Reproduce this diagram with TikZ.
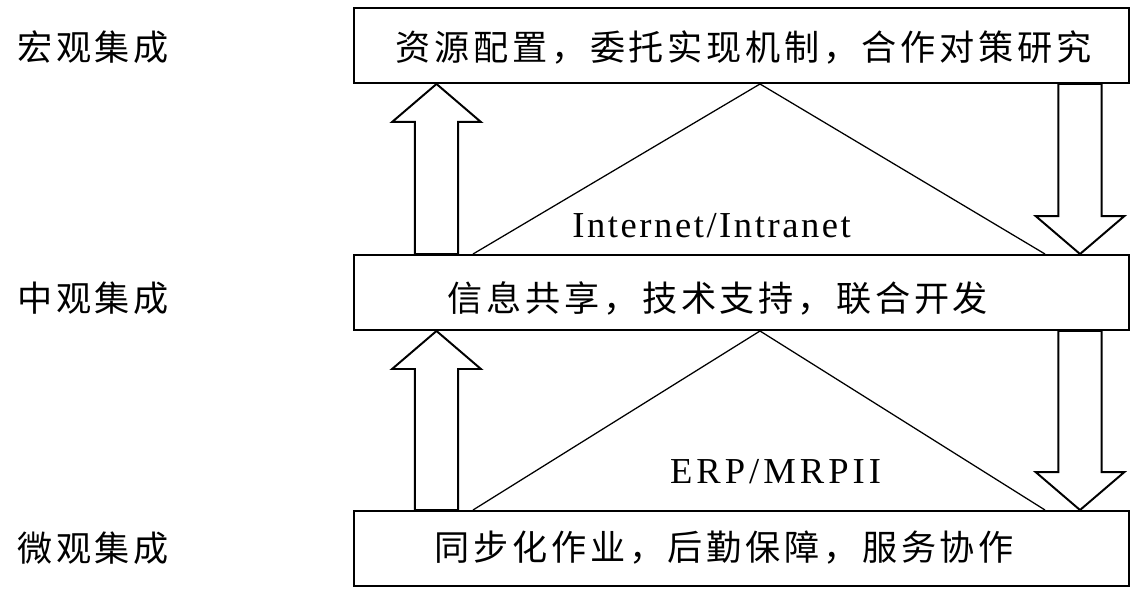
\documentclass[tikz,border=0pt]{standalone}
\usepackage{fontspec}
\setmainfont{Liberation Serif}
\newfontfamily\cjk[LetterSpace=10.5]{Noto Sans CJK SC}
\usetikzlibrary{calc}

\begin{document}
\begin{tikzpicture}[
  layer/.style={draw,line width=1.4pt,minimum width=19.39cm,minimum height=1.875cm,inner sep=0pt},
  zh/.style={font=\cjk\fontsize{25}{30}\selectfont,inner sep=0pt},
  en/.style={anchor=base,inner sep=0pt},
  ridge/.style={line width=.9pt},
  fat up/.style={line width=1.4pt,to path={
    ($(\tikztostart)+(-.54,0)$) -- ($(\tikztotarget)+(-.54,-.95)$) -- ($(\tikztotarget)+(-1.11,-.95)$) -- (\tikztotarget)
    -- ($(\tikztotarget)+(1.11,-.95)$) -- ($(\tikztotarget)+(.54,-.95)$) -- ($(\tikztostart)+(.54,0)$) -- cycle}},
  fat down/.style={line width=1.4pt,to path={
    ($(\tikztostart)+(-.54,0)$) -- ($(\tikztotarget)+(-.54,.95)$) -- ($(\tikztotarget)+(-1.11,.95)$) -- (\tikztotarget)
    -- ($(\tikztotarget)+(1.11,.95)$) -- ($(\tikztotarget)+(.54,.95)$) -- ($(\tikztostart)+(.54,0)$) -- cycle}}
]
\useasboundingbox (0,0) rectangle (28.675,15);

\node[layer] (top) at (18.54,13.8625) {};
\node[layer] (mid) at (18.54,7.6875) {};
\node[layer] (bot) at (18.54,1.2875) {};

\node[zh] (toptxt) at (18.59,13.825) {资源配置，委托实现机制，合作对策研究};
\node[zh] (midtxt) at (17.95,7.55) {信息共享，技术支持，联合开发};
\node[zh] (bottxt) at (18.11,1.3) {同步化作业，后勤保障，服务协作};

\node[zh] (macro) at (2.325,13.825) {宏观集成};
\node[zh] (meso) at (2.325,7.55) {中观集成};
\node[zh] (micro) at (2.325,1.3) {微观集成};

\coordinate (lx) at (10.9125,0);
\coordinate (rx) at (27.0,0);
\coordinate (apx) at (19.0,0);
\coordinate (tl) at (11.825,0);
\coordinate (tr) at (26.125,0);

\draw[ridge] (mid.north -| tl) -- (top.south -| apx) -- (mid.north -| tr);
\draw[ridge] (bot.north -| tl) -- (mid.south -| apx) -- (bot.north -| tr);

\node[en,font=\addfontfeatures{LetterSpace=7}\fontsize{26}{30}\selectfont] (inet) at (17.79,9.075) {Internet/Intranet};
\node[en,font=\addfontfeatures{LetterSpace=11}\fontsize{26}{30}\selectfont] (erp) at (19.39,2.925) {ERP/MRPII};

\draw[fat up] (mid.north -| lx) to (top.south -| lx);
\draw[fat down] (top.south -| rx) to (mid.north -| rx);
\draw[fat up] (bot.north -| lx) to (mid.south -| lx);
\draw[fat down] (mid.south -| rx) to (bot.north -| rx);

\end{tikzpicture}
\end{document}
